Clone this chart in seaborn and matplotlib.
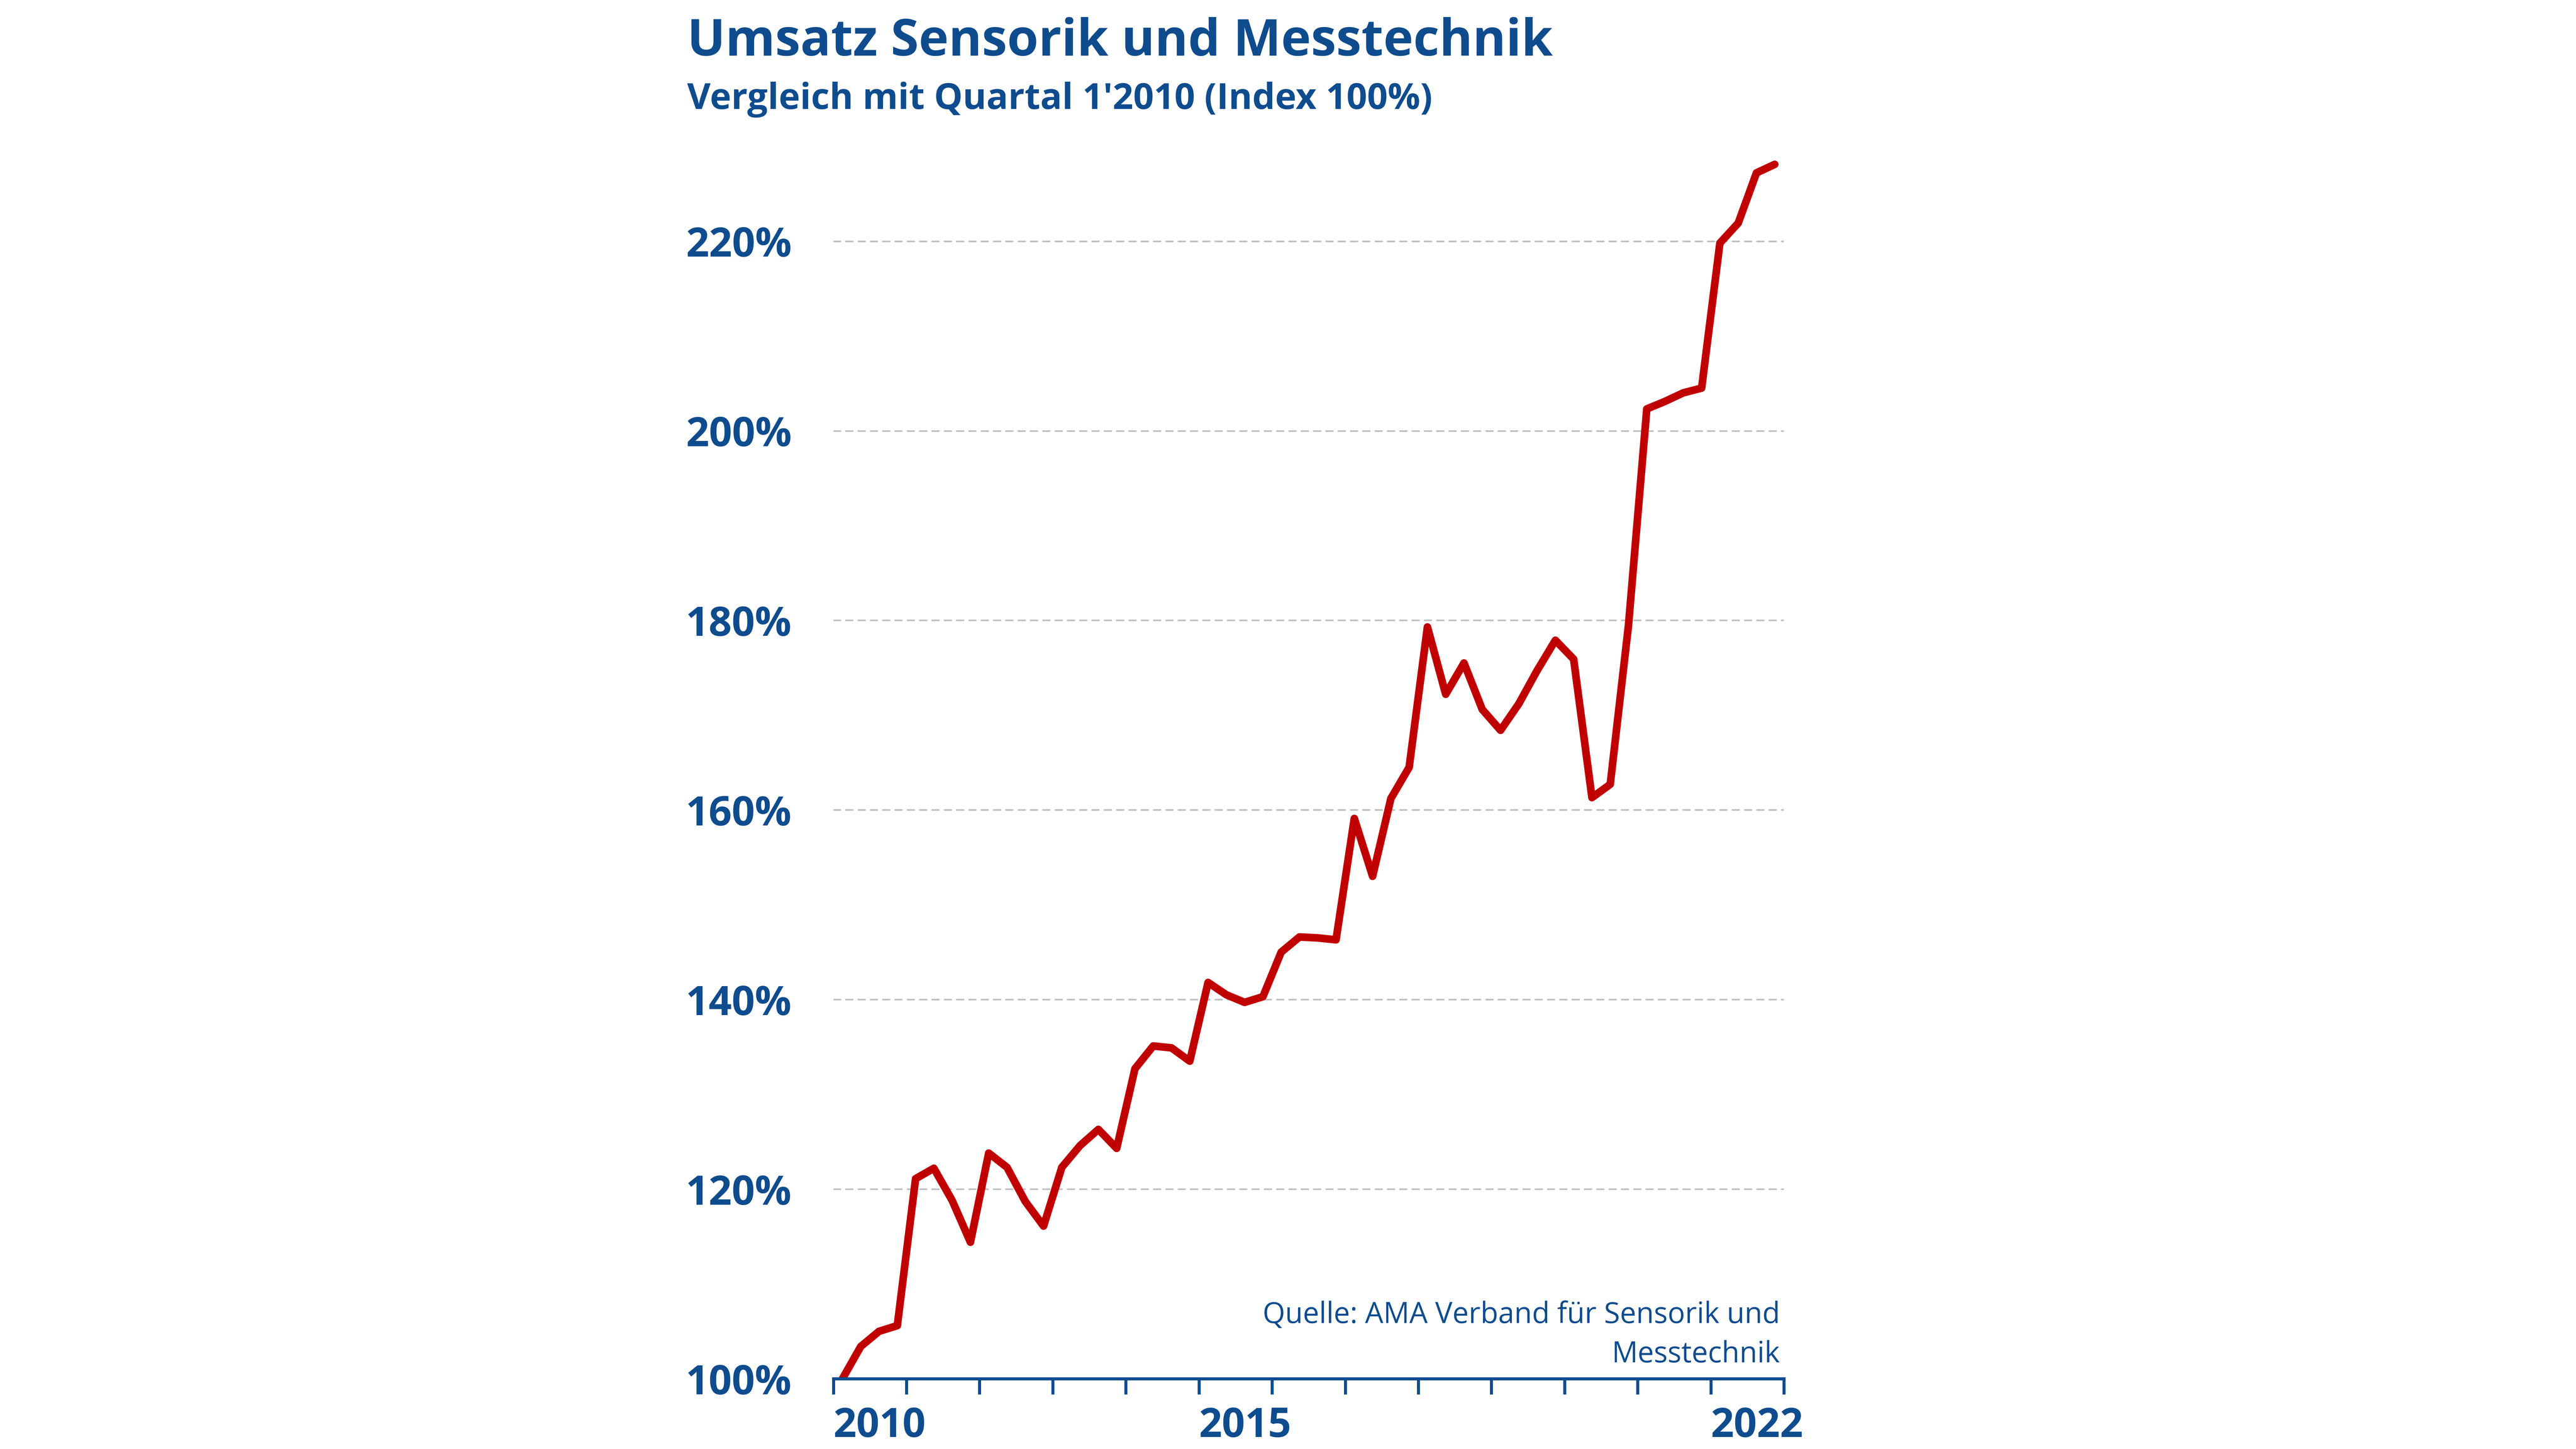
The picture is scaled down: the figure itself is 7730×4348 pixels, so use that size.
import numpy as np
import pandas as pd
import matplotlib.pyplot as plt
import seaborn as sns

# Umsatzindex Sensorik und Messtechnik, Quartal 1/2010 = 100%
jahr = [2010] * 4 + [2011] * 4 + [2012] * 4 + [2013] * 4 + [2014] * 4 + [2015] * 4 + [2016] * 4 \
    + [2017] * 4 + [2018] * 4 + [2019] * 4 + [2020] * 4 + [2021] * 4 + [2022] * 4
quartal = [1, 2, 3, 4] * 13
umsatz_index = [100.0, 103.4, 105.0, 105.6,
                121.1, 122.2, 118.8, 114.4,
                123.8, 122.3, 118.7, 116.1,
                122.3, 124.6, 126.3, 124.3,
                132.7, 135.1, 134.9, 133.5,
                141.8, 140.5, 139.7, 140.3,
                145.0, 146.6, 146.5, 146.3,
                159.1, 153.0, 161.2, 164.5,
                179.3, 172.2, 175.5, 170.6,
                168.4, 171.2, 174.7, 177.9,
                175.9, 161.3, 162.7, 179.5,
                202.3, 203.1, 204.0, 204.5,
                219.8, 221.9, 227.2, 228.1]
y_ticks = [100, 120, 140, 160, 180, 200, 220]
x_labels = {2010: '2010', 2015: '2015', 2022: '2022'}

blau = '#0f4c8e'
rot = '#c00000'

sns.set_style('white')
plt.rcParams['font.family'] = ['Open Sans', 'DejaVu Sans']

df = pd.DataFrame({'jahr': jahr, 'quartal': quartal, 'index': umsatz_index})
df['zeit'] = df['jahr'] + (df['quartal'] - 0.5) / 4

fig = plt.figure(figsize=(15.46, 8.696), dpi=500)
ax = fig.add_axes([0.3235, 0.0485, 0.369, 0.8505])

sns.lineplot(data=df, x='zeit', y='index', color=rot, linewidth=3.3,
             solid_capstyle='round', ax=ax)

ax.set_xlim(2010, 2023)
ax.set_ylim(100, 230)
ax.set_xlabel('')
ax.set_ylabel('')

# y axis
ax.set_yticks(y_ticks)
ax.set_yticklabels([f'{v}%' for v in y_ticks], fontsize=17.5, fontweight='bold', color=blau)
ax.tick_params(axis='y', left=False, length=0, pad=18)
ax.yaxis.grid(True, color='#c0c0c0', linestyle=(0, (4.2, 3.4)), linewidth=0.7,
              dash_capstyle='round')
ax.xaxis.grid(False)

# x axis: year ticks, labels left aligned at year start
years = list(range(2010, 2024))
ax.set_xticks(years)
ax.set_xticklabels([x_labels.get(y, '') for y in years], fontsize=17.5,
                   fontweight='bold', color=blau)
for lab in ax.get_xticklabels():
    lab.set_ha('left')
ax.tick_params(axis='x', bottom=True, direction='out', length=6.8, width=1.3,
               color=blau, pad=5)

for s in ['top', 'left', 'right']:
    ax.spines[s].set_visible(False)
ax.spines['bottom'].set_color(blau)
ax.spines['bottom'].set_linewidth(1.35)

# titles
fig.text(0.2668, 0.9616, 'Umsatz Sensorik und Messtechnik', fontsize=21.9,
         fontweight='bold', color=blau, va='baseline', ha='left')
fig.text(0.2668, 0.9248, "Vergleich mit Quartal 1'2010 (Index 100%)", fontsize=15.6,
         fontweight='bold', color=blau, va='baseline', ha='left')

# source
fig.text(0.691, 0.0869, 'Quelle: AMA Verband für Sensorik und', fontsize=12.5,
         color=blau, ha='right', va='baseline')
fig.text(0.691, 0.0598, 'Messtechnik', fontsize=12.5, color=blau, ha='right', va='baseline')

fig.savefig('out.png', dpi=500, facecolor='white')
